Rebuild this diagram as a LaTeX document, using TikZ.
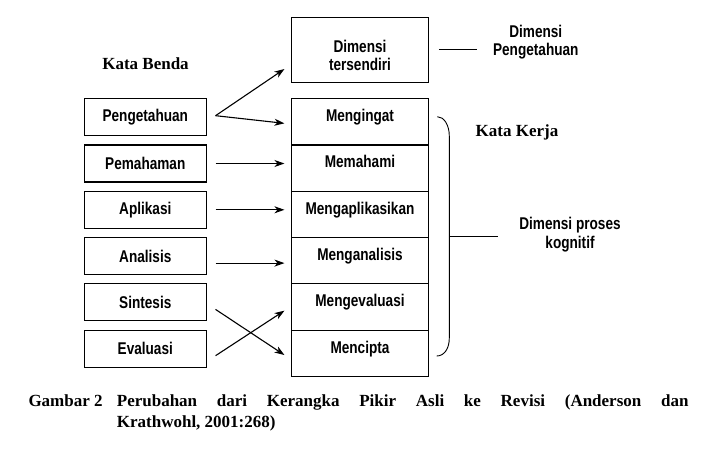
\documentclass[tikz,border=0pt]{standalone}
\usepackage{fontspec}
\newfontfamily\diagfont[FakeStretch=0.8]{Liberation Sans}
\newfontfamily\capfont{Liberation Serif}
\usetikzlibrary{positioning,arrows.meta,calc}

\begin{document}
\begin{tikzpicture}[
  x=1pt, y=-1pt,
  font={\diagfont\bfseries\fontsize{17}{18.3}\selectfont},
  >={Stealth[length=10pt,width=7pt,inset=3pt]},
  noun/.style={draw, line width=1.1pt, minimum width=122pt, minimum height=37pt, inner sep=0pt},
  verb/.style={draw, line width=1.1pt, minimum width=136.6pt, minimum height=46.3pt,
               inner sep=0pt, text height=23pt, text depth=23.3pt},
  dim/.style={align=center, inner sep=3pt},
  head/.style={font={\capfont\bfseries\fontsize{17}{21}\selectfont}},
  arr/.style={->, line width=1.1pt},
  tick/.style={line width=0.9pt},
]
\useasboundingbox (0,0) rectangle (716,449);

\node[head] (kb) at (145.5,64)  {Kata Benda};
\node[head] (kk) at (517,132.7) {Kata Kerja};

\node[noun] (pg) at (145.3,117.2) {Pengetahuan};
\node[noun] (pm) at (145.3,163.5) {Pemahaman};
\node[noun] (ap) at (145.3,209.8) {Aplikasi};
\node[noun] (an) at (145.3,256.1) {Analisis};
\node[noun] (sn) at (145.3,302.4) {Sintesis};
\node[noun] (ev) at (145.3,348.7) {Evaluasi};

\node[draw, line width=1.1pt, minimum width=136.6pt, minimum height=65.4pt, align=center,
      inner ysep=0pt, text height=53.7pt, text depth=11.7pt]
  (dt) at (360,50) {Dimensi\\tersendiri};

\node[verb] (m1) at (360,121.85) {Mengingat};
\node[verb] (m2) at (360,168.15) {Memahami};
\node[verb] (m3) at (360,214.45) {Mengaplikasikan};
\node[verb] (m4) at (360,260.75) {Menganalisis};
\node[verb] (m5) at (360,307.05) {Mengevaluasi};
\node[verb] (m6) at (360,353.35) {Mencipta};

\node[dim] (dpg) at (535.8,42)  {Dimensi\\Pengetahuan};
\node[dim] (dpk) at (570,234.5) {Dimensi proses\\kognitif};

% arrows noun -> verb
\coordinate (pgout) at ([xshift=8.7pt,yshift=1.5pt]pg.east);
\draw[arr] (pgout) -- ([xshift=-6.7pt,yshift=-19pt]dt.west);
\draw[arr] (pgout) -- ([xshift=-6.7pt,yshift=-1.5pt]m1.west);
\draw[arr, shorten <=8.7pt, shorten >=6.7pt] (pm.east) -- (pm.east -| m2.west);
\draw[arr, shorten <=8.7pt, shorten >=6.7pt] (ap.east) -- (ap.east -| m3.west);
\draw[arr, shorten <=8.7pt, shorten >=6.7pt] ([yshift=-7pt]an.east) -- ([yshift=-7pt]an.east -| m4.west);
\draw[arr] ([xshift=8.7pt,yshift=-7pt]sn.east) -- ([xshift=-6.7pt,yshift=-1.7pt]m6.west);
\draw[arr] ([xshift=8.7pt,yshift=-7pt]ev.east) -- ([xshift=-6.7pt,yshift=-3.6pt]m5.west);

% brace and side lines
\coordinate (brtop) at (437.3,116.7);
\coordinate (brbot) at (436.7,356);
\coordinate (brmid) at (449.3,236.7);
\draw[tick] (brtop) .. controls (444,116.7) and (449.3,125) .. (449.3,136)
  -- (449.3,338) .. controls (449.3,349) and (444,356) .. (brbot);
\draw[tick, shorten >=17.7pt] (brmid) -- (brmid -| dpk.west);
\draw[tick, shorten <=10pt, shorten >=12.7pt] ([yshift=0.7pt]dt.east) -- ([yshift=0.7pt]dt.east -| dpg.west);

% caption
\node[head, anchor=base west, inner sep=0pt] (gb) at (28.3,406.7) {Gambar 2};
\node[head, anchor=base west, inner sep=0pt, text width=571.6pt, align=justify] (cap) at (116.7,406.7)
  {\hbadness=10000 Perubahan dari Kerangka Pikir Asli ke Revisi (Anderson dan\linebreak Krathwohl, 2001:268)};
\end{tikzpicture}
\end{document}
